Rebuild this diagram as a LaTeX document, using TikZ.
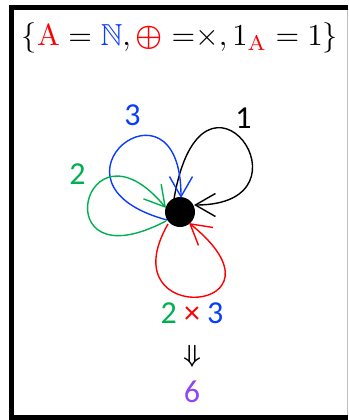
\documentclass[tikz,border=0pt]{standalone}
\usepackage{amssymb}
\usepackage{graphicx}
\usepackage{fontspec}
\newfontfamily\carl{Carlito}
\usetikzlibrary{arrows.meta}
\definecolor{myred}{HTML}{FF0000}
\definecolor{myblue}{HTML}{0A3CFF}
\definecolor{mygreen}{HTML}{00B050}
\definecolor{mypurple}{HTML}{9145F5}
\tikzset{
  loopline/.style={line width=1.4pt, -{Straight Barb[length=20pt,width=23pt,line width=1.4pt]}},
  lbl/.style={font=\carl\fontsize{32}{36}\selectfont, inner sep=0pt},
}
\begin{document}
\begin{tikzpicture}[x=1pt,y=-1pt]
\useasboundingbox (0,0) rectangle (348,420);
% frame
\draw[line width=5pt] (11.5,420) -- (11.5,7.5) -- (348,7.5);
\fill (9,415) rectangle (348,420);
\draw[black!25, line width=0.8pt] (347.2,10) -- (347.2,415);
% title
\node[inner sep=0pt] (title) at (180,38) {\resizebox{316pt}{!}{$\{{\color{myred}\mathrm{A}} = {\color{myblue}\mathbb{N}}, {\color{myred}\mbox{\boldmath$\oplus$}}\;{=}{\times}, 1_{\color{myred}\mathrm{A}} = 1\}$}};
% dot
\node[circle, fill=black, minimum size=30pt, inner sep=0pt] (v) at (180,212) {};
\coordinate (b0) at (174,199);
\coordinate (b1) at (194,205);
\coordinate (u0) at (167,220);
\coordinate (u1) at (181,198);
\coordinate (g0) at (166,221);
\coordinate (g1) at (166,208);
\coordinate (r0) at (168,224);
\coordinate (r1) at (189,223);
% loops
\draw[loopline, black] (b0) .. controls (202,35) and (322,205) .. (b1);
\draw[loopline, myblue] (u0) .. controls (30,183) and (181,64) .. (u1);
\draw[loopline, mygreen] (g0) .. controls (42,286) and (83,108) .. (g1);
\draw[loopline, myred] (r0) .. controls (107,330) and (301,313) .. (r1);
% labels
\node[lbl, text=black] (l1) at (243.5,118) {1};
\node[lbl, text=myblue] (l3) at (132.5,115) {3};
\node[lbl, text=mygreen] (l2) at (77.5,174) {2};
\node[lbl] (prod) at (192,313) {\textcolor{mygreen}{2} \textcolor{myred}{×} \textcolor{myblue}{3}};
\node[inner sep=0pt, font={\fontsize{26}{30}\selectfont\boldmath}] (arr) at (192,356) {$\Downarrow$};
\node[lbl, text=mypurple] (six) at (192,392) {6};
\end{tikzpicture}
\end{document}
